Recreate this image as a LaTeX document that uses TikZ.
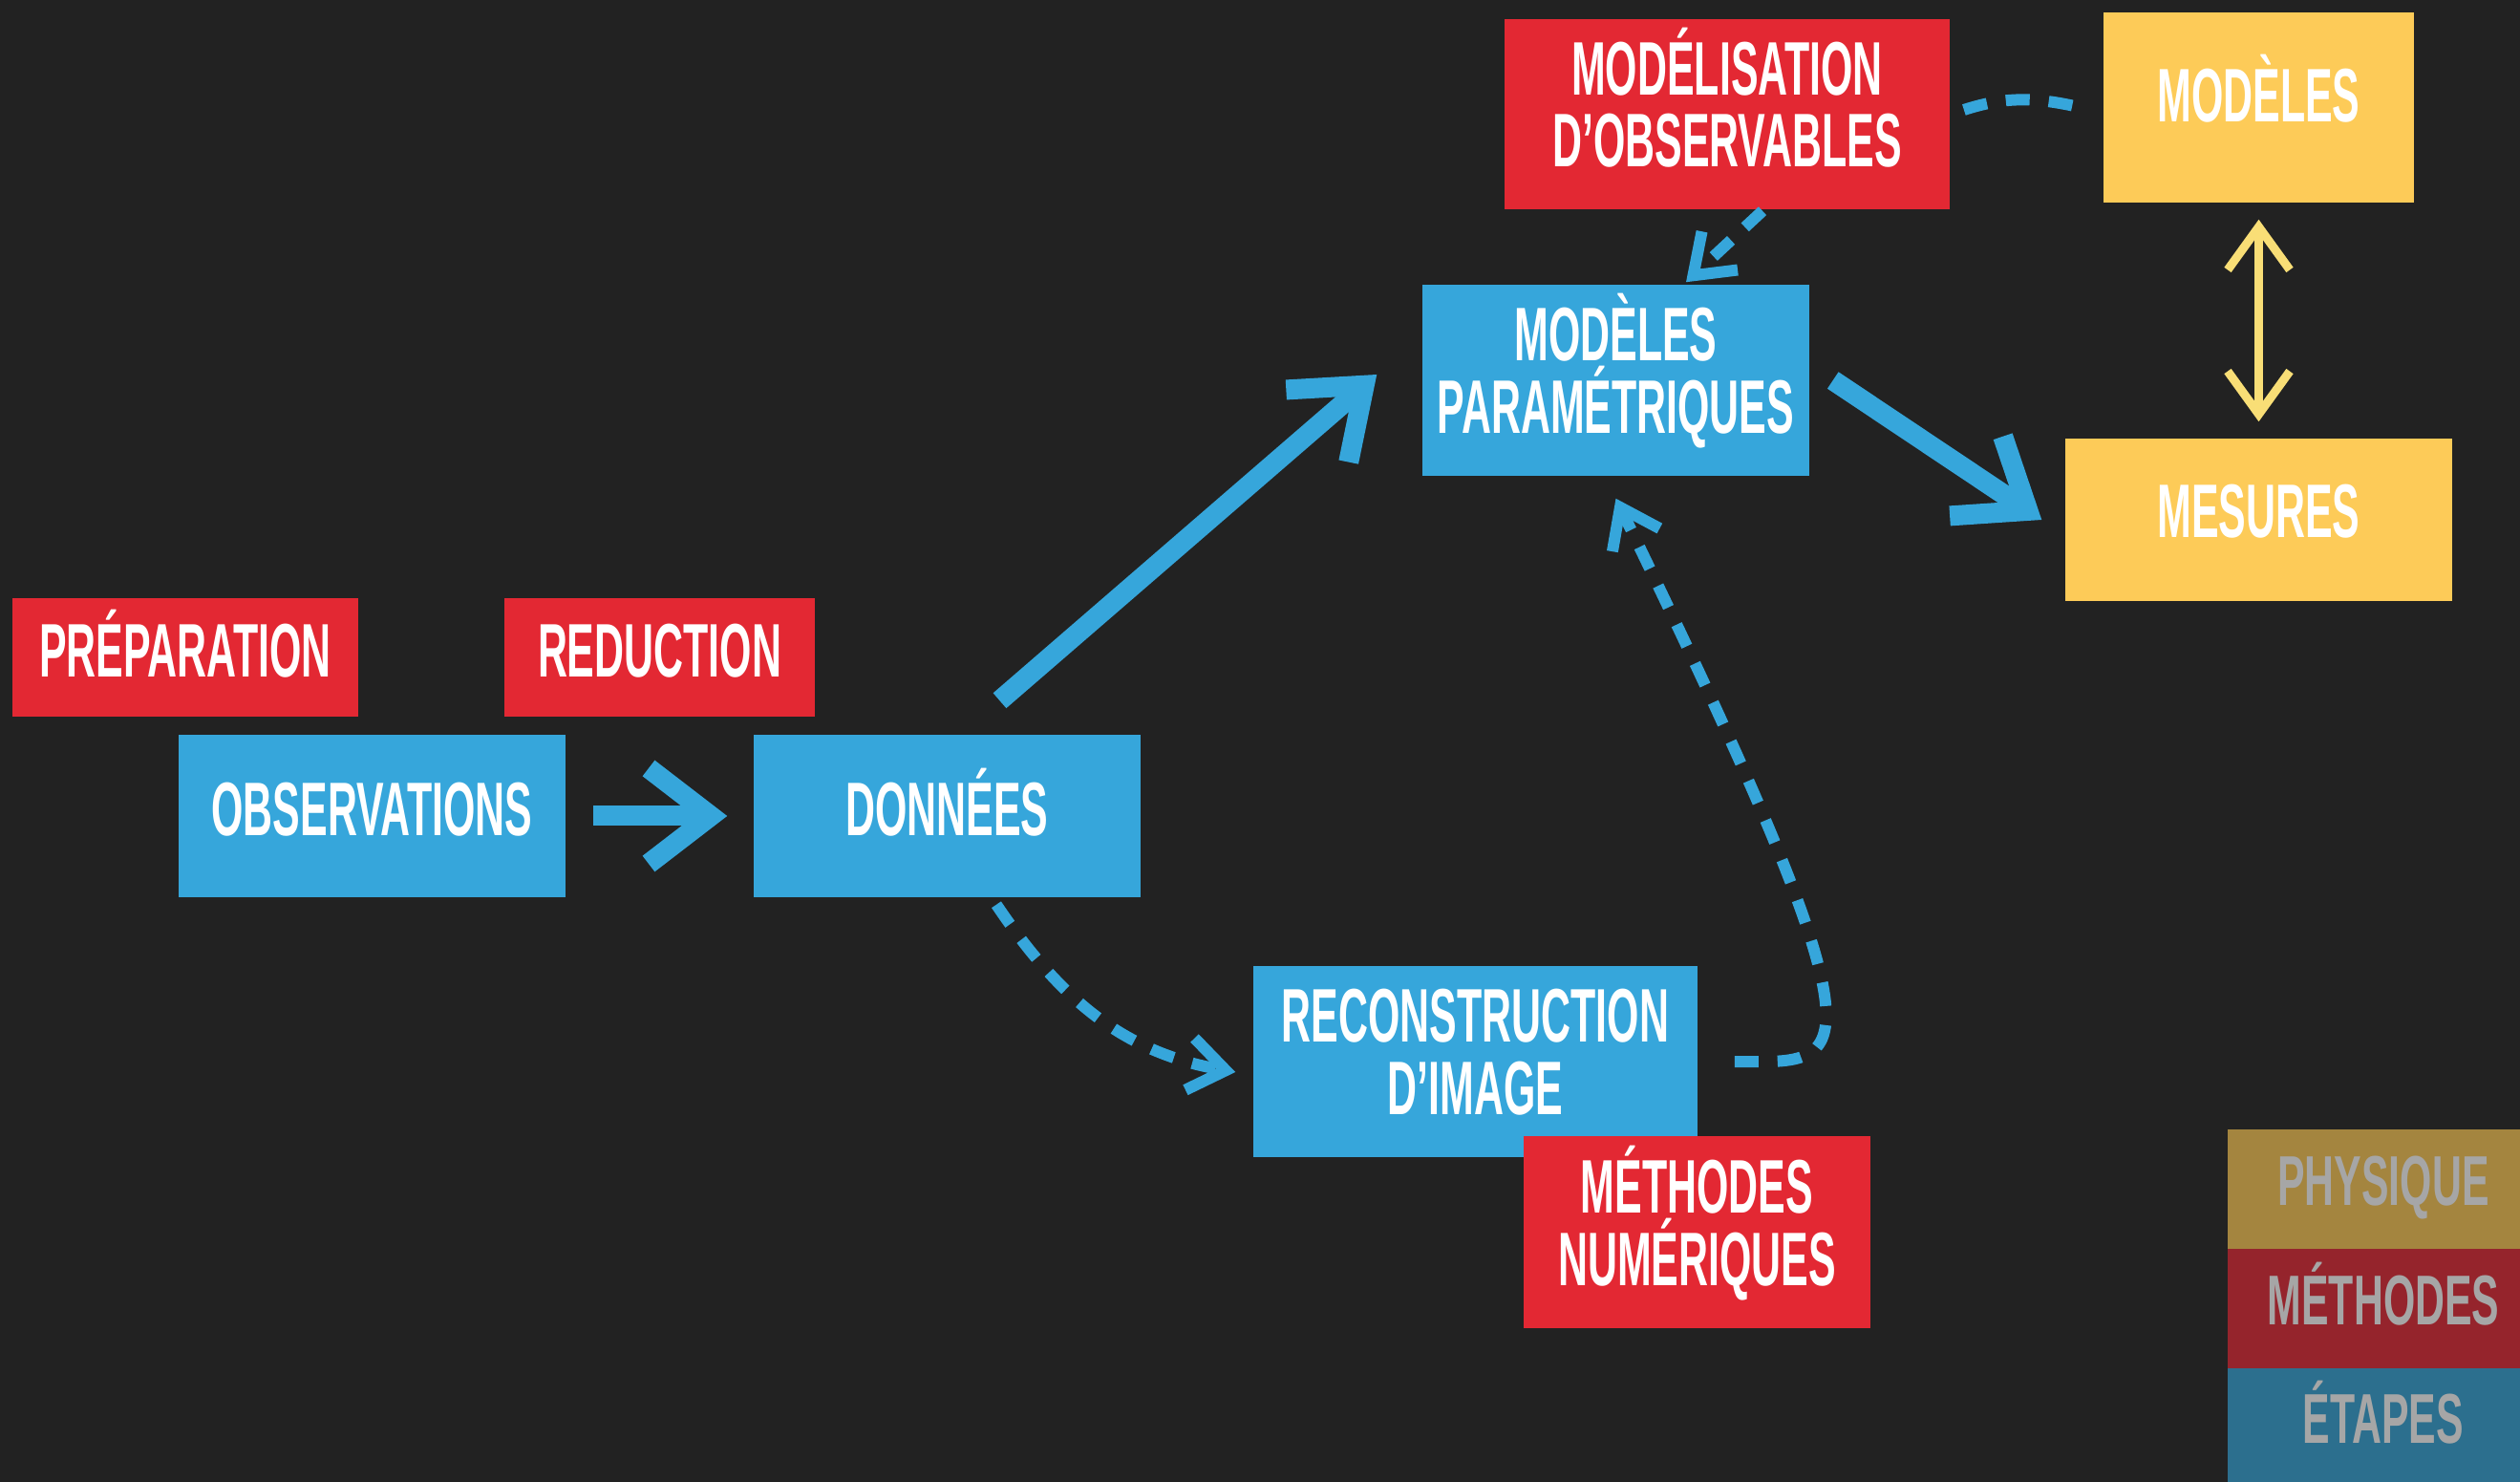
\documentclass[tikz,border=0pt]{standalone}
\usepackage{fontspec}
\newfontfamily\dinfont{Liberation Sans}[FakeStretch=0.54]
\newfontfamily\legfont{Liberation Sans}[FakeStretch=0.58]
\usetikzlibrary{arrows.meta}
\definecolor{fond}{HTML}{222222}
\definecolor{bleu}{HTML}{36A6DB}
\definecolor{rouge}{HTML}{E32833}
\definecolor{jaune}{HTML}{FDCB58}
\definecolor{craie}{HTML}{F9DE76}
\definecolor{legphys}{HTML}{A4853F}
\definecolor{legmeth}{HTML}{95242C}
\definecolor{legetap}{HTML}{2C6F8E}
\definecolor{legtexte}{HTML}{A6A6A6}

\begin{document}
\begin{tikzpicture}[line width=1pt,
  boite/.style={minimum width=4.05cm,minimum height=1.70cm,inner sep=0pt,text=white,
    font=\dinfont\bfseries\fontsize{22.6}{21.6}\selectfont,text height=0.57cm,text depth=0.16cm},
  double/.style={boite,align=center,text height=1.33cm,text depth=0.22cm},
  legende/.style={minimum width=3.26cm,minimum height=1.25cm,inner sep=0pt,text=legtexte,
    font=\legfont\bfseries\fontsize{21}{21}\selectfont,text height=0.53cm,text depth=0.2cm},
  fleche/.style={bleu,line width=2.1mm,-{Straight Barb[length=6.5mm,width=10mm]}},
  pointille/.style={bleu,line width=1.2mm,dash pattern=on 2.5mm off 2mm,-{Straight Barb[length=3.8mm,width=5.5mm]}}]
  % fond
  \useasboundingbox (0,0) rectangle (26.38,-15.51);
  \fill[fond] (0,0) rectangle (26.38,-15.51);
  % etapes
  \node[boite,fill=bleu] (obs) at (3.895,-8.54) {OBSERVATIONS};
  \node[boite,fill=bleu] (don) at (9.915,-8.54) {DONNÉES};
  \node[double,fill=bleu,minimum height=2cm] (param) at (16.915,-3.98) {MODÈLES\\PARAMÉTRIQUES};
  \node[double,fill=bleu,minimum width=4.65cm,minimum height=2cm] (recon) at (15.445,-11.11) {RECONSTRUCTION\\D’IMAGE};
  % methodes
  \node[boite,fill=rouge,minimum width=3.62cm,minimum height=1.24cm] (prep) at (1.94,-6.88) {PRÉPARATION};
  \node[boite,fill=rouge,minimum width=3.25cm,minimum height=1.24cm] (red) at (6.905,-6.88) {REDUCTION};
  \node[double,fill=rouge,minimum width=4.66cm,minimum height=1.99cm] (modobs) at (18.08,-1.195) {MODÉLISATION\\D’OBSERVABLES};
  \node[double,fill=rouge,minimum width=3.63cm,minimum height=2.01cm] (meth) at (17.765,-12.895) {MÉTHODES\\NUMÉRIQUES};
  % physique
  \node[boite,fill=jaune,minimum width=3.25cm,minimum height=1.99cm,text depth=0.26cm] (modeles) at (23.645,-1.125) {MODÈLES};
  \node[boite,fill=jaune,text depth=0.2cm] (mes) at (23.645,-5.44) {MESURES};
  % legende
  \node[legende,fill=legphys] (lphys) at (24.95,-12.445) {PHYSIQUE};
  \node[legende,fill=legmeth] (lmeth) at (24.95,-13.695) {MÉTHODES};
  \node[legende,fill=legetap,minimum height=1.2cm,text depth=0.17cm] (letap) at (24.95,-14.92) {ÉTAPES};
  % fleches pleines
  \draw[fleche,shorten <=2.7mm,shorten >=2.6mm] (obs) -- (don);
  \draw[fleche] ([xshift=5.5mm,yshift=3.4mm]don.north) -- ([xshift=-4.6mm,yshift=0.6mm]param.west);
  \draw[fleche] ([xshift=2.3mm]param.east) -- ([xshift=-2.3mm]mes.west);
  % fleches pointillees
  \draw[pointille] ([xshift=5.15mm,yshift=-0.6mm]don.south) to[out=-56,in=170] ([xshift=-1.7mm,yshift=-1.1mm]recon.west);
  \draw[pointille] ([xshift=3.7mm]recon.east) to[out=0,in=-64,out looseness=0.5,in looseness=2.9] ([yshift=-2.2mm]param.south);
  \draw[pointille] ([xshift=3.7mm]modobs.south) -- ([xshift=7.35mm,yshift=0.1mm]param.north);
  \draw[pointille,-] ([xshift=-3.1mm,yshift=0.2mm]modeles.west) to[bend right=16] (modobs.east);
  % craie
  \draw[craie,line width=0.9mm,line cap=round,shorten <=1.6mm,shorten >=1.6mm,
    {Straight Barb[length=4.5mm,width=6.5mm]}-{Straight Barb[length=4.5mm,width=6.5mm]}] (modeles) -- (mes);
\end{tikzpicture}
\end{document}
